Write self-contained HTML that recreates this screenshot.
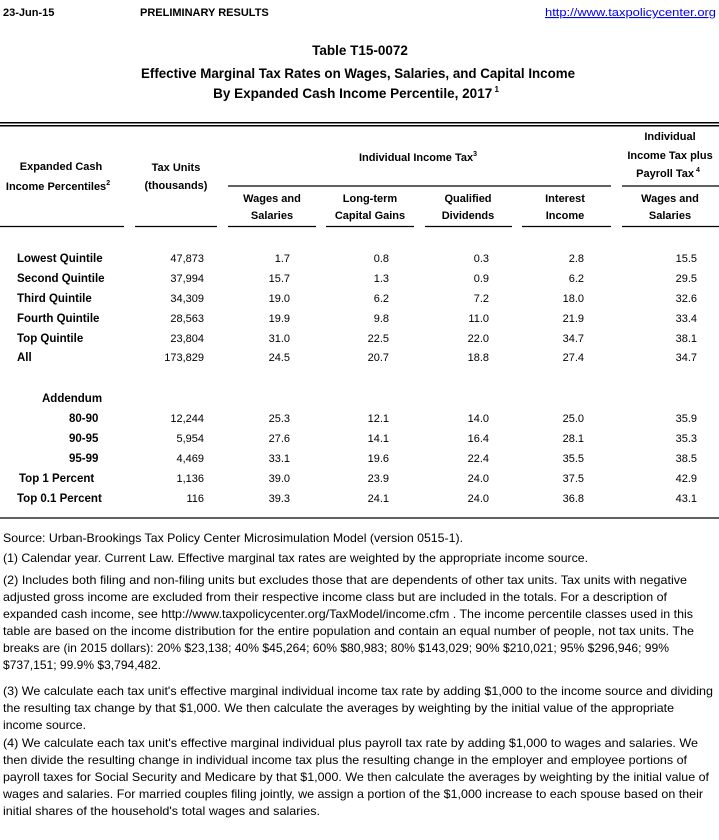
<!DOCTYPE html>
<html><head><meta charset="utf-8"><style>
html,body{margin:0;padding:0;background:#fff;}
svg{display:block;font-family:"Liberation Sans",sans-serif;}
.b{font-weight:bold;}
</style></head><body>
<svg width="719" height="840" viewBox="0 0 719 840" xmlns="http://www.w3.org/2000/svg">
<g font-size="11" fill="#000">
<text x="3" y="16" class="b">23-Jun-15</text>
<text x="140" y="16" class="b">PRELIMINARY RESULTS</text>
<text x="545" y="16" fill="#0000ee" text-decoration="underline" textLength="171" lengthAdjust="spacingAndGlyphs">http://www.taxpolicycenter.org</text>
</g>
<g font-size="13.5" font-weight="bold" text-anchor="middle">
<text x="360" y="55">Table T15-0072</text>
<text x="358" y="78" textLength="434" lengthAdjust="spacingAndGlyphs">Effective Marginal Tax Rates on Wages, Salaries, and Capital Income</text>
<text x="356" y="98">By Expanded Cash Income Percentile, 2017<tspan font-size="8" dy="-6"> 1</tspan></text>
</g>
<rect x="0" y="122" width="719" height="1.5" fill="#000"/>
<rect x="0" y="125" width="719" height="1.5" fill="#000"/>
<g stroke="#000" stroke-width="1.3">
<line x1="228" y1="186" x2="611" y2="186"/>
<line x1="622" y1="186" x2="719" y2="186"/>
<line x1="0" y1="226.5" x2="124" y2="226.5"/>
<line x1="135" y1="226.5" x2="217" y2="226.5"/>
<line x1="228" y1="226.5" x2="316" y2="226.5"/>
<line x1="326" y1="226.5" x2="414" y2="226.5"/>
<line x1="425" y1="226.5" x2="512" y2="226.5"/>
<line x1="522" y1="226.5" x2="611" y2="226.5"/>
<line x1="622" y1="226.5" x2="719" y2="226.5"/>
<line x1="0" y1="518" x2="719" y2="518"/>
</g>
<g font-size="11" font-weight="bold" text-anchor="middle">
<text x="61" y="170">Expanded Cash</text>
<text x="58" y="190">Income Percentiles<tspan font-size="7" dy="-5">2</tspan></text>
<text x="176" y="171">Tax Units</text>
<text x="176" y="189">(thousands)</text>
<text x="418" y="161">Individual Income Tax<tspan font-size="7" dy="-5">3</tspan></text>
<text x="670" y="140">Individual</text>
<text x="670" y="159">Income Tax plus</text>
<text x="668" y="177">Payroll Tax<tspan font-size="7" dy="-5"> 4</tspan></text>
<text x="272" y="202">Wages and</text><text x="272" y="219">Salaries</text>
<text x="370" y="202">Long-term</text><text x="370" y="219">Capital Gains</text>
<text x="468" y="202">Qualified</text><text x="468" y="219">Dividends</text>
<text x="565" y="202">Interest</text><text x="565" y="219">Income</text>
<text x="670" y="202">Wages and</text><text x="670" y="219">Salaries</text>
</g>
<g font-size="11">
<g font-weight="bold" font-size="11.5">
<text x="17" y="262">Lowest Quintile</text>
<text x="17" y="282">Second Quintile</text>
<text x="17" y="302">Third Quintile</text>
<text x="17" y="322">Fourth Quintile</text>
<text x="17" y="342">Top Quintile</text>
<text x="17" y="361">All</text>
<text x="42" y="402">Addendum</text>
<text x="69" y="422">80-90</text>
<text x="69" y="442">90-95</text>
<text x="69" y="462">95-99</text>
<text x="19" y="482">Top 1 Percent</text>
<text x="17" y="502">Top 0.1 Percent</text>
</g>
<g text-anchor="end">
<g transform="translate(0,262)"><text x="204">47,873</text><text x="290">1.7</text><text x="389">0.8</text><text x="489">0.3</text><text x="584">2.8</text><text x="697">15.5</text></g>
<g transform="translate(0,282)"><text x="204">37,994</text><text x="290">15.7</text><text x="389">1.3</text><text x="489">0.9</text><text x="584">6.2</text><text x="697">29.5</text></g>
<g transform="translate(0,302)"><text x="204">34,309</text><text x="290">19.0</text><text x="389">6.2</text><text x="489">7.2</text><text x="584">18.0</text><text x="697">32.6</text></g>
<g transform="translate(0,322)"><text x="204">28,563</text><text x="290">19.9</text><text x="389">9.8</text><text x="489">11.0</text><text x="584">21.9</text><text x="697">33.4</text></g>
<g transform="translate(0,342)"><text x="204">23,804</text><text x="290">31.0</text><text x="389">22.5</text><text x="489">22.0</text><text x="584">34.7</text><text x="697">38.1</text></g>
<g transform="translate(0,361)"><text x="204">173,829</text><text x="290">24.5</text><text x="389">20.7</text><text x="489">18.8</text><text x="584">27.4</text><text x="697">34.7</text></g>
<g transform="translate(0,422)"><text x="204">12,244</text><text x="290">25.3</text><text x="389">12.1</text><text x="489">14.0</text><text x="584">25.0</text><text x="697">35.9</text></g>
<g transform="translate(0,442)"><text x="204">5,954</text><text x="290">27.6</text><text x="389">14.1</text><text x="489">16.4</text><text x="584">28.1</text><text x="697">35.3</text></g>
<g transform="translate(0,462)"><text x="204">4,469</text><text x="290">33.1</text><text x="389">19.6</text><text x="489">22.4</text><text x="584">35.5</text><text x="697">38.5</text></g>
<g transform="translate(0,482)"><text x="204">1,136</text><text x="290">39.0</text><text x="389">23.9</text><text x="489">24.0</text><text x="584">37.5</text><text x="697">42.9</text></g>
<g transform="translate(0,502)"><text x="204">116</text><text x="290">39.3</text><text x="389">24.1</text><text x="489">24.0</text><text x="584">36.8</text><text x="697">43.1</text></g>
</g>
</g>
<g font-size="12">
<text x="3" y="542" textLength="460" lengthAdjust="spacingAndGlyphs">Source: Urban-Brookings Tax Policy Center Microsimulation Model (version 0515-1).</text>
<text x="3" y="562" textLength="585" lengthAdjust="spacingAndGlyphs">(1) Calendar year. Current Law. Effective marginal tax rates are weighted by the appropriate income source.</text>
<text x="3" y="584" textLength="684" lengthAdjust="spacingAndGlyphs">(2) Includes both filing and non-filing units but excludes those that are dependents of other tax units. Tax units with negative</text>
<text x="3" y="601" textLength="664" lengthAdjust="spacingAndGlyphs">adjusted gross income are excluded from their respective income class but are included in the totals. For a description of</text>
<text x="3" y="618" textLength="690" lengthAdjust="spacingAndGlyphs">expanded cash income, see http://www.taxpolicycenter.org/TaxModel/income.cfm . The income percentile classes used in this</text>
<text x="3" y="635" textLength="691" lengthAdjust="spacingAndGlyphs">table are based on the income distribution for the entire population and contain an equal number of people, not tax units. The</text>
<text x="3" y="652" textLength="666" lengthAdjust="spacingAndGlyphs">breaks are (in 2015 dollars): 20% $23,138; 40% $45,264; 60% $80,983; 80% $143,029; 90% $210,021; 95% $296,946; 99%</text>
<text x="3" y="669" textLength="158" lengthAdjust="spacingAndGlyphs">$737,151; 99.9% $3,794,482.</text>
<text x="3" y="695" textLength="710" lengthAdjust="spacingAndGlyphs">(3) We calculate each tax unit's effective marginal individual income tax rate by adding $1,000 to the income source and dividing</text>
<text x="3" y="712" textLength="671" lengthAdjust="spacingAndGlyphs">the resulting tax change by that $1,000. We then calculate the averages by weighting by the initial value of the appropriate</text>
<text x="3" y="729" textLength="83" lengthAdjust="spacingAndGlyphs">income source.</text>
<text x="3" y="747" textLength="695" lengthAdjust="spacingAndGlyphs">(4) We calculate each tax unit's effective marginal individual plus payroll tax rate by adding $1,000 to wages and salaries. We</text>
<text x="3" y="764" textLength="684" lengthAdjust="spacingAndGlyphs">then divide the resulting change in individual income tax plus the resulting change in the employer and employee portions of</text>
<text x="3" y="781" textLength="706" lengthAdjust="spacingAndGlyphs">payroll taxes for Social Security and Medicare by that $1,000. We then calculate the averages by weighting by the initial value of</text>
<text x="3" y="798" textLength="700" lengthAdjust="spacingAndGlyphs">wages and salaries. For married couples filing jointly, we assign a portion of the $1,000 increase to each spouse based on their</text>
<text x="3" y="815" textLength="317" lengthAdjust="spacingAndGlyphs">initial shares of the household's total wages and salaries.</text>
</g>
</svg>
</body></html>
